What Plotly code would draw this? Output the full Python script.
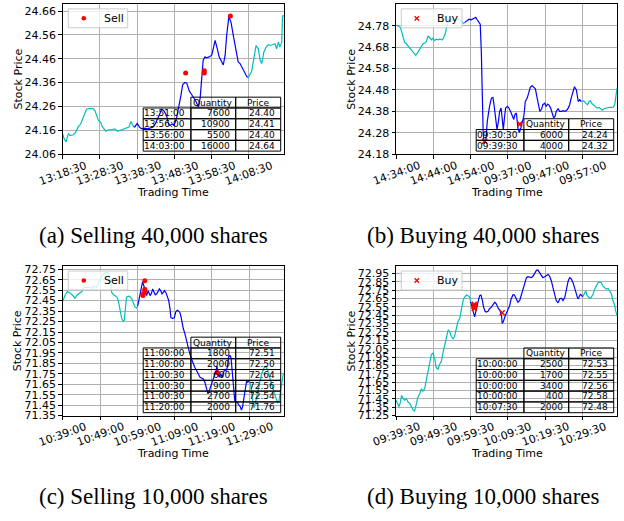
import plotly.graph_objects as go

W, H = 624, 521
FONT = "DejaVu Sans"
SERIF = "Liberation Serif"
CYAN, BLUE, RED = "#00BFBF", "#0000FF", "#FF0000"

xtick_minutes = [0, 10, 20, 30, 40, 50]

# ---------------- (a) Selling 40,000 shares ----------------
a_minutes = [0, 0.36, 0.9, 1.5, 2.0, 2.9, 3.5, 4.2, 4.8, 5.5,
             6.4, 7.3, 8.2, 8.7, 9.6, 10.2, 10.7, 11.6, 12.3, 13.1,
             14.0, 14.7, 15.4, 16.3, 17.2, 17.8, 18.3, 18.8, 19.1,
             19.4, 20.0, 20.6, 21.2, 22.1, 22.7, 23.4, 24.2, 24.8, 25.4,
             26.1, 26.6, 27.2, 27.9, 28.4, 28.8, 29.4, 29.9, 30.6, 31.2,
             31.7, 32.2, 32.8, 33.3, 34.0, 34.6, 35.2, 35.7, 36.1, 36.5,
             36.9, 37.3, 37.7, 38.2, 38.6, 39.3, 40.0, 40.4, 40.9, 41.5,
             42.0, 42.7, 43.1, 43.6, 44.0, 44.6, 45.2, 45.8, 46.4, 47.1,
             47.6, 48.2, 48.7, 49.4, 49.8,
             50.7, 51.3, 51.9, 52.5, 53.0, 53.4, 54.0, 54.6, 55.2, 55.8,
             56.4, 57.0, 57.4, 57.9, 58.3, 58.8, 59.0, 59.4]
a_price = [24.145, 24.125, 24.111, 24.145, 24.138, 24.141, 24.152, 24.175, 24.186, 24.214,
           24.248, 24.252, 24.251, 24.241, 24.200, 24.193, 24.173, 24.156, 24.162, 24.162,
           24.166, 24.155, 24.159, 24.162, 24.170, 24.173, 24.197, 24.180, 24.173,
           24.175, 24.189, 24.173, 24.166, 24.169, 24.166, 24.169, 24.173, 24.184, 24.207,
           24.234, 24.248, 24.241, 24.221, 24.186, 24.180, 24.186, 24.180, 24.214, 24.255,
           24.303, 24.351, 24.361, 24.358, 24.324, 24.310, 24.296, 24.283, 24.269, 24.261,
           24.296, 24.365, 24.454, 24.468, 24.464, 24.468, 24.475, 24.502, 24.537, 24.502,
           24.468, 24.447, 24.434, 24.475, 24.557, 24.637, 24.612, 24.557, 24.502, 24.447,
           24.440, 24.420, 24.406, 24.386, 24.381,
           24.406, 24.461, 24.516, 24.502, 24.454, 24.440, 24.489, 24.509, 24.519, 24.516,
           24.519, 24.523, 24.502, 24.530, 24.509, 24.530, 24.640, 24.640]
a_exec = (19.1, 49.8)
a_trade_minutes = [33.0, 38.0, 38.0, 45.0]
a_trade_time = ["13:51:00", "13:56:00", "13:56:00", "14:03:00"]
a_trade_qty = [7600, 10900, 5500, 16000]
a_trade_price = [24.40, 24.41, 24.40, 24.64]
a_xtick_labels = ["13:18:30", "13:28:30", "13:38:30", "13:48:30", "13:58:30", "14:08:30"]
a_ytick_values = [24.06, 24.16, 24.26, 24.36, 24.46, 24.56, 24.66]

# ---------------- (b) Buying 40,000 shares ----------------
b_minutes = [0, 0.5, 1.2, 1.9, 2.3, 2.8, 3.5, 4.1, 4.7, 5.3,
             5.6, 6.2, 6.8, 7.2, 7.7, 8.1, 8.6, 9.0, 9.5, 9.9,
             10.4, 10.8, 11.3, 11.7, 12.4, 12.8, 13.3, 13.7, 14.0, 14.4,
             14.8, 15.3, 16.2, 16.6, 17.1, 17.5, 18.0, 18.4,
             19.1, 19.6, 20.2, 20.7, 21.4, 21.7, 22.3, 22.6, 22.9, 23.2,
             23.4, 23.7, 24.1, 24.5, 24.8, 25.1, 25.6, 26.0, 26.3, 26.7,
             27.1, 27.5, 27.8, 28.2, 28.5, 28.8, 29.1, 29.4, 29.9, 30.3,
             30.8, 31.2, 31.6, 31.9, 32.3, 32.7, 33.1, 33.5, 33.9, 34.3,
             34.7, 35.2, 35.6, 36.0, 36.5, 36.9, 37.4, 37.8, 38.3, 38.6,
             39.1, 39.4, 39.9, 40.3, 40.7, 41.1, 41.5, 42.0, 42.3, 42.7,
             43.0, 43.5, 43.9, 44.4, 44.8, 45.3, 45.7, 46.2, 46.6, 47.0,
             47.5, 47.9, 48.4, 48.7, 48.9, 49.3, 49.7,
             50.4, 50.9, 51.4, 51.8, 52.1, 52.7, 53.1, 53.6, 54.0, 54.5,
             54.9, 55.4, 55.8, 56.3, 56.7, 57.2, 57.8, 58.2, 58.7, 58.9, 59.3]
b_price = [24.783, 24.780, 24.772, 24.734, 24.703, 24.695, 24.680, 24.665, 24.654, 24.642,
           24.649, 24.665, 24.680, 24.695, 24.700, 24.706, 24.731, 24.726, 24.715, 24.722,
           24.711, 24.718, 24.715, 24.718, 24.715, 24.726, 24.749, 24.792, 24.811, 24.814,
           24.811, 24.808, 24.811, 24.814, 24.808, 24.803, 24.792, 24.795,
           24.803, 24.811, 24.808, 24.814, 24.820, 24.811, 24.798, 24.788, 24.657, 24.426,
           24.272, 24.229, 24.242, 24.334, 24.380, 24.403, 24.442, 24.445, 24.411, 24.349,
           24.295, 24.334, 24.380, 24.395, 24.334, 24.295, 24.349, 24.395, 24.403, 24.395,
           24.377, 24.357, 24.342, 24.365, 24.372, 24.303, 24.280, 24.303, 24.334, 24.357,
           24.426, 24.442, 24.465, 24.491, 24.500, 24.495, 24.485, 24.449, 24.403, 24.380,
           24.392, 24.411, 24.418, 24.403, 24.414, 24.408, 24.395, 24.372, 24.349, 24.357,
           24.380, 24.392, 24.380, 24.380, 24.383, 24.380, 24.383, 24.395, 24.411, 24.442,
           24.480, 24.495, 24.480, 24.442, 24.426, 24.434, 24.426,
           24.429, 24.418, 24.411, 24.426, 24.429, 24.414, 24.408, 24.398, 24.395, 24.398,
           24.392, 24.385, 24.392, 24.395, 24.398, 24.398, 24.398, 24.398, 24.411, 24.442, 24.488]
b_exec = (18.4, 49.7)
b_trade_minutes = [23.8, 33.2]
b_trade_time = ["09:30:30", "09:39:30"]
b_trade_qty = [6000, 4000]
b_trade_price = [24.24, 24.32]
b_xtick_labels = ["14:34:00", "14:44:00", "14:54:00", "09:37:00", "09:47:00", "09:57:00"]
b_ytick_values = [24.18, 24.28, 24.38, 24.48, 24.58, 24.68, 24.78]

# ---------------- (c) Selling 10,000 shares ----------------
c_minutes = [0, 0.6, 1.25, 2.0, 2.7, 3.3, 3.75, 4.5, 5.1, 5.5,
             6.0, 7.1, 7.8, 8.2, 9.1, 9.55, 10.0, 10.45, 10.9, 11.3,
             11.8, 12.05, 12.5, 12.9, 13.1, 13.6, 14.0, 14.5, 14.9, 15.4,
             15.8, 16.25, 16.5, 16.8, 17.1, 17.6, 18.0, 18.5, 18.9, 19.35,
             19.8, 20.1,
             20.5, 21.0, 21.4, 21.8, 22.1, 22.5, 22.9, 23.4, 23.75, 24.1,
             24.5, 24.8, 25.2, 25.5, 25.9, 26.25, 26.6, 27.0, 27.3, 27.7,
             28.0, 28.4, 28.75, 29.0, 29.5, 29.9, 30.3, 30.7, 31.1, 31.4,
             31.7, 32.0, 32.3, 32.7, 33.0, 33.4, 33.75, 34.1, 34.55, 35.0,
             35.4, 35.9, 36.3, 36.8, 37.2, 37.7, 38.1, 38.6, 38.9, 39.3,
             39.6, 40.0, 40.4, 40.7, 41.1, 41.3, 41.6, 41.9, 42.1, 42.4,
             42.7, 43.0, 43.4, 43.75, 44.1, 44.5, 44.8, 45.1, 45.4, 45.7,
             46.1, 46.4, 46.9, 47.2, 47.6, 47.9, 48.2, 48.6, 48.9, 49.3,
             49.6, 50.0,
             50.4, 50.9, 51.25, 51.6, 52.1, 52.7, 53.3, 53.9, 54.4, 54.8,
             55.4, 56.0, 56.6, 57.1, 57.6, 57.9, 58.3, 58.75, 59.1, 59.3]
c_price = [72.443, 72.499, 72.537, 72.524, 72.499, 72.474, 72.499, 72.524, 72.537, 72.568,
           72.577, 72.577, 72.568, 72.587, 72.577, 72.618, 72.656, 72.687, 72.703, 72.719,
           72.725, 72.719, 72.687, 72.625, 72.531, 72.506, 72.499, 72.484, 72.452, 72.374,
           72.280, 72.249, 72.265, 72.374, 72.484, 72.493, 72.490, 72.468, 72.421, 72.390,
           72.380, 72.399,
           72.468, 72.546, 72.630, 72.587, 72.531, 72.499, 72.546, 72.499, 72.515, 72.562,
           72.531, 72.506, 72.515, 72.537, 72.562, 72.546, 72.515, 72.531, 72.546, 72.524,
           72.499, 72.452, 72.374, 72.286, 72.280, 72.286, 72.343, 72.358, 72.349, 72.337,
           72.296, 72.233, 72.186, 72.139, 72.092, 72.014, 71.967, 71.936, 71.889, 71.842,
           71.810, 71.779, 71.748, 71.716, 71.710, 71.701, 71.669, 71.607, 71.560, 71.591,
           71.622, 71.654, 71.701, 71.748, 71.779, 71.826, 71.763, 71.716, 71.732, 71.748,
           71.716, 71.748, 71.795, 71.779, 71.810, 71.920, 71.926, 71.904, 71.779, 71.622,
           71.497, 71.482, 71.472, 71.450, 71.435, 71.403, 71.435, 71.529, 71.622, 71.685,
           71.669, 71.685,
           71.638, 71.497, 71.425, 71.466, 71.560, 71.654, 71.748, 71.804, 71.820, 71.795,
           71.732, 71.654, 71.575, 71.513, 71.475, 71.482, 71.560, 71.685, 71.748, 71.748]
c_exec = (20.1, 50.0)
c_trade_minutes = [21.5, 21.5, 22.0, 22.0, 22.0, 41.5]
c_trade_time = ["11:00:00", "11:00:00", "11:00:30", "11:00:30", "11:00:30", "11:20:00"]
c_trade_qty = [1800, 2000, 600, 900, 2700, 2000]
c_trade_price = [72.51, 72.50, 72.64, 72.56, 72.54, 71.76]
c_xtick_labels = ["10:39:00", "10:49:00", "10:59:00", "11:09:00", "11:19:00", "11:29:00"]
c_ytick_values = [71.35, 71.45, 71.55, 71.65, 71.75, 71.85, 71.95, 72.05,
                  72.15, 72.25, 72.35, 72.45, 72.55, 72.65, 72.75]

# ---------------- (d) Buying 10,000 shares ----------------
d_minutes = [0, 0.45, 0.8, 1.2, 1.5, 1.9, 2.3, 2.8, 3.2, 3.7,
             4.1, 4.6, 5.0, 5.5, 5.9, 6.35, 6.8, 7.2, 7.7, 8.1,
             8.6, 9.0, 9.5, 9.9, 10.4, 10.8, 11.3, 11.7, 12.2, 12.6,
             13.1, 13.5, 14.0, 14.4, 14.85, 15.3, 15.7, 16.2, 16.6, 17.1,
             17.5, 18.0, 18.4, 18.9, 19.3, 19.8, 20.0,
             20.4, 20.75, 21.1, 21.4, 21.7, 22.1, 22.45, 22.8, 23.2, 23.5,
             23.9, 24.2, 24.7, 25.1, 25.6, 26.0, 26.5, 26.9, 27.2, 27.5,
             27.9, 28.3, 28.5, 28.8, 29.2, 29.6, 30.05, 30.5, 30.9, 31.4,
             31.8, 32.3, 32.7, 33.2, 33.6, 34.1, 34.5, 35.0, 35.4, 35.9,
             36.3, 36.8, 37.2, 37.7, 38.1, 38.6, 39.0, 39.4, 39.9, 40.3,
             40.8, 41.2, 41.7, 42.1, 42.6, 43.0, 43.5, 43.9, 44.4, 44.8,
             45.3, 45.7, 46.2, 46.6, 47.0, 47.5, 47.9, 48.4, 48.8, 49.1,
             49.5, 49.8, 50.2,
             50.5, 50.9, 51.3, 51.6, 52.0, 52.4, 52.9, 53.3, 53.8, 54.2,
             54.7, 55.1, 55.5, 56.0, 56.4, 56.9, 57.3, 57.8, 58.2, 58.7,
             58.9, 59.3]
d_price = [71.434, 71.375, 71.356, 71.414, 71.492, 71.453, 71.434, 71.453, 71.414, 71.395,
           71.356, 71.316, 71.305, 71.395, 71.473, 71.512, 71.570, 71.543, 71.570, 71.668,
           71.785, 71.903, 71.981, 72.000, 71.922, 71.824, 71.805, 71.864, 71.903, 72.000,
           72.098, 72.196, 72.274, 72.254, 72.196, 72.168, 72.196, 72.293, 72.372, 72.411,
           72.508, 72.626, 72.665, 72.692, 72.684, 72.665, 72.614,
           72.547, 72.469, 72.430, 72.489, 72.567, 72.626, 72.684, 72.692, 72.626, 72.547,
           72.497, 72.489, 72.497, 72.528, 72.547, 72.575, 72.606, 72.586, 72.547, 72.528,
           72.508, 72.450, 72.352, 72.372, 72.430, 72.469, 72.508, 72.567, 72.645, 72.696,
           72.692, 72.645, 72.606, 72.626, 72.684, 72.762, 72.821, 72.899, 72.911, 72.899,
           72.899, 72.919, 72.958, 72.989, 72.989, 72.958, 72.919, 72.899, 72.911, 72.926,
           72.938, 72.919, 72.860, 72.782, 72.704, 72.626, 72.598, 72.645, 72.653, 72.626,
           72.665, 72.762, 72.860, 72.899, 72.887, 72.840, 72.782, 72.723, 72.645, 72.665,
           72.704, 72.684, 72.676,
           72.704, 72.743, 72.684, 72.665, 72.653, 72.665, 72.704, 72.762, 72.801, 72.840,
           72.848, 72.840, 72.801, 72.782, 72.762, 72.770, 72.743, 72.704, 72.626, 72.567,
           72.508, 72.450]
d_exec = (20.0, 50.2)
d_trade_minutes = [21.0, 21.0, 21.0, 21.0, 28.5]
d_trade_time = ["10:00:00", "10:00:00", "10:00:00", "10:00:00", "10:07:30"]
d_trade_qty = [2500, 1700, 3400, 400, 2000]
d_trade_price = [72.53, 72.55, 72.56, 72.58, 72.48]
d_xtick_labels = ["09:39:30", "09:49:30", "09:59:30", "10:09:30", "10:19:30", "10:29:30"]
d_ytick_values = [71.25, 71.35, 71.45, 71.55, 71.65, 71.75, 71.85, 71.95, 72.05,
                  72.15, 72.25, 72.35, 72.45, 72.55, 72.65, 72.75, 72.85, 72.95]

captions = ["(a) Selling 40,000 shares", "(b) Buying 40,000 shares",
            "(c) Selling 10,000 shares", "(d) Buying 10,000 shares"]

# ---------------- layout geometry (pixels) ----------------
panels = [
    dict(t=a_minutes, p=a_price, ex=a_exec, tt=a_trade_minutes, tp=a_trade_price,
         times=a_trade_time, qty=a_trade_qty, side="Sell", sym="circle",
         xl=a_xtick_labels, yt=a_ytick_values, xr=[0, 59.4], yr=[24.06, 24.689],
         box=(62.7, 284.0, 1.3, 154.0), leg=(68.3, 6.0, 59.4), cap=(153, 237)),
    dict(t=b_minutes, p=b_price, ex=b_exec, tt=b_trade_minutes, tp=b_trade_price,
         times=b_trade_time, qty=b_trade_qty, side="Buy", sym="x",
         xl=b_xtick_labels, yt=b_ytick_values, xr=[0, 59.3], yr=[24.18, 24.881],
         box=(396.0, 617.0, 1.3, 154.0), leg=(401.3, 6.0, 60.7), cap=(483, 237)),
    dict(t=c_minutes, p=c_price, ex=c_exec, tt=c_trade_minutes, tp=c_trade_price,
         times=c_trade_time, qty=c_trade_qty, side="Sell", sym="circle",
         xl=c_xtick_labels, yt=c_ytick_values, xr=[0, 59.3], yr=[71.35, 72.78],
         box=(62.7, 284.0, 268.3, 420.7), leg=(68.3, 273.3, 59.4), cap=(153, 503)),
    dict(t=d_minutes, p=d_price, ex=d_exec, tt=d_trade_minutes, tp=d_trade_price,
         times=d_trade_time, qty=d_trade_qty, side="Buy", sym="x",
         xl=d_xtick_labels, yt=d_ytick_values, xr=[0, 59.3], yr=[71.25, 73.037],
         box=(396.0, 617.0, 268.3, 420.7), leg=(401.3, 273.3, 60.7), cap=(483, 503)),
]

COL_W = [47.7, 44.8, 45.0]
ROW_H = 11.0
LEG_H = 19.3

fig = go.Figure()
shapes, annotations = [], []
layout = dict(width=W, height=H, margin=dict(l=0, r=0, t=0, b=0),
              paper_bgcolor="white", plot_bgcolor="white", showlegend=False,
              font=dict(family=FONT, size=11, color="black"))


def px(X):
    return X / W


def py(Y):
    return 1 - Y / H


for i, P in enumerate(panels, start=1):
    sfx = "" if i == 1 else str(i)
    xa, ya = "x" + sfx, "y" + sfx
    L, R, T, B = P["box"]
    s, e = P["ex"]
    pairs = list(zip(P["t"], P["p"]))
    segs = [([q for q in pairs if q[0] <= s], CYAN),
            ([q for q in pairs if s <= q[0] <= e], BLUE),
            ([q for q in pairs if q[0] >= e], CYAN)]
    for seg, col in segs:
        fig.add_trace(go.Scatter(x=[q[0] for q in seg], y=[q[1] for q in seg], mode="lines",
                                 line=dict(color=col, width=1.2), xaxis=xa, yaxis=ya,
                                 showlegend=False, hoverinfo="skip"))
    if P["sym"] == "x":
        mk = dict(color=RED, size=5, symbol="x-thin", line=dict(color=RED, width=1.5))
    else:
        mk = dict(color=RED, size=5, symbol="circle")
    fig.add_trace(go.Scatter(x=P["tt"], y=P["tp"], mode="markers", marker=mk,
                             name=P["side"], xaxis=xa, yaxis=ya, showlegend=False))
    layout["xaxis" + sfx] = dict(domain=[px(L), px(R)], range=P["xr"], anchor=ya,
                                 tickmode="array", tickvals=xtick_minutes, showticklabels=False,
                                 showgrid=True, gridcolor="#b0b0b0", gridwidth=1, zeroline=False,
                                 showline=True, linecolor="black", linewidth=1, mirror=True,
                                 ticks="outside", ticklen=3.5, tickcolor="black")
    layout["yaxis" + sfx] = dict(domain=[py(B), py(T)], range=P["yr"], anchor=xa,
                                 tickmode="array", tickvals=P["yt"],
                                 ticktext=[f"{v:.2f}" for v in P["yt"]],
                                 tickfont=dict(family=FONT, size=11, color="black"),
                                 showgrid=True, gridcolor="#b0b0b0", gridwidth=1, zeroline=False,
                                 showline=True, linecolor="black", linewidth=1, mirror=True,
                                 ticks="outside", ticklen=3.5, tickcolor="black")
    # rotated x tick labels
    for tv, tl in zip(xtick_minutes, P["xl"]):
        annotations.append(dict(x=tv, y=py(B + 19.5), xref=xa, yref="paper",
                                text=tl, showarrow=False, textangle=-20,
                                xanchor="center", yanchor="middle",
                                font=dict(family=FONT, size=11, color="black")))
    # axis titles
    annotations.append(dict(x=px((L + R) / 2), y=py(B + 38.7), xref="paper", yref="paper",
                            text="Trading Time", showarrow=False, xanchor="center", yanchor="middle",
                            font=dict(family=FONT, size=11, color="black")))
    annotations.append(dict(x=px(L - 44.4), y=py((T + B) / 2), xref="paper", yref="paper",
                            text="Stock Price", showarrow=False, textangle=-90,
                            xanchor="center", yanchor="middle",
                            font=dict(family=FONT, size=11, color="black")))
    # caption
    annotations.append(dict(x=px(P["cap"][0]), y=py(P["cap"][1]), xref="paper", yref="paper",
                            text=captions[i - 1], showarrow=False, xanchor="center", yanchor="middle",
                            font=dict(family=SERIF, size=23, color="black")))
    # legend (matplotlib-style frame)
    lx, ly, lw = P["leg"]
    shapes.append(dict(type="rect", xref="paper", yref="paper", layer="above",
                       x0=px(lx), x1=px(lx + lw), y0=py(ly), y1=py(ly + LEG_H),
                       fillcolor="rgba(255,255,255,0.8)", line=dict(color="#cccccc", width=1)))
    mx, my = lx + 15.5, ly + LEG_H / 2
    if P["sym"] == "x":
        for d in (1, -1):
            shapes.append(dict(type="line", xref="paper", yref="paper", layer="above",
                               x0=px(mx - 2.2), x1=px(mx + 2.2), y0=py(my - 2.2 * d), y1=py(my + 2.2 * d),
                               line=dict(color=RED, width=1.4)))
    else:
        shapes.append(dict(type="circle", xref="paper", yref="paper", layer="above",
                           x0=px(mx - 2.3), x1=px(mx + 2.3), y0=py(my - 2.3), y1=py(my + 2.3),
                           fillcolor=RED, line=dict(color=RED, width=0)))
    annotations.append(dict(x=px(lx + 34.5), y=py(my), xref="paper", yref="paper",
                            text=P["side"], showarrow=False, xanchor="left", yanchor="middle",
                            borderpad=0, font=dict(family=FONT, size=11, color="black")))
    # trade table (bottom-right inside the axes)
    right = R - 3.3
    bottom = B - 3.0
    cx = [right - sum(COL_W)]
    for w in COL_W:
        cx.append(cx[-1] + w)
    nrows = len(P["times"])
    top = bottom - (nrows + 1) * ROW_H
    cell_style = dict(type="rect", xref="paper", yref="paper",
                      line=dict(color="black", width=1), layer="above")
    for c, head in ((1, "Quantity"), (2, "Price")):
        shapes.append(dict(cell_style, x0=px(cx[c]), x1=px(cx[c + 1]), y0=py(top), y1=py(top + ROW_H)))
        annotations.append(dict(x=px((cx[c] + cx[c + 1]) / 2), y=py(top + ROW_H / 2),
                                xref="paper", yref="paper", text=head, showarrow=False,
                                xanchor="center", yanchor="middle", borderpad=0,
                                font=dict(family=FONT, size=9, color="black")))
    for r in range(nrows):
        y0 = top + (r + 1) * ROW_H
        vals = [P["times"][r], str(P["qty"][r]), f"{P['tp'][r]:.2f}"]
        for c in range(3):
            shapes.append(dict(cell_style, x0=px(cx[c]), x1=px(cx[c + 1]), y0=py(y0), y1=py(y0 + ROW_H)))
            annotations.append(dict(x=px(cx[c + 1] - 4.5), y=py(y0 + ROW_H / 2),
                                    xref="paper", yref="paper", text=vals[c],
                                    showarrow=False, xanchor="right", yanchor="middle", borderpad=0,
                                    font=dict(family=FONT, size=9, color="black")))

layout["shapes"] = shapes
layout["annotations"] = annotations
fig.update_layout(**layout)
fig.write_html("out.html", config={"displayModeBar": False},
               post_script="document.body.style.margin='0';document.body.style.overflow='hidden';")
